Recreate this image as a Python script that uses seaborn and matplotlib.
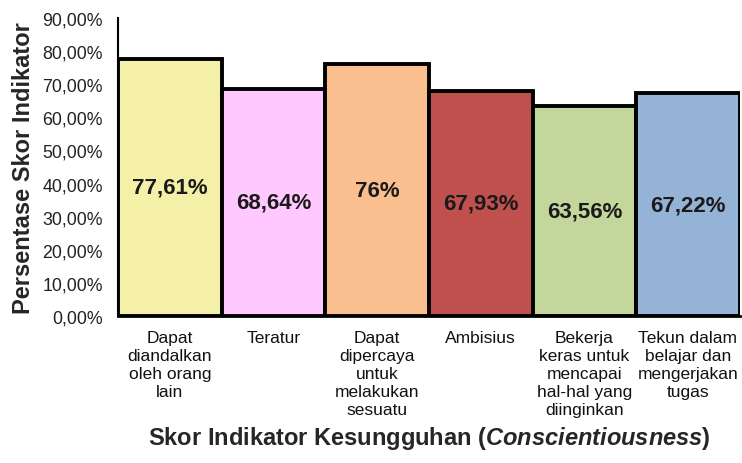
import numpy as np
import matplotlib.pyplot as plt
import matplotlib.ticker as mticker
import pandas as pd
import seaborn as sns

indikator = [
    "Dapat\ndiandalkan\noleh orang\nlain",
    "Teratur",
    "Dapat\ndipercaya\nuntuk\nmelakukan\nsesuatu",
    "Ambisius",
    "Bekerja\nkeras untuk\nmencapai\nhal-hal yang\ndiinginkan",
    "Tekun dalam\nbelajar dan\nmengerjakan\ntugas",
]
skor = [77.61, 68.64, 76.00, 67.93, 63.56, 67.22]
label_bar = ["77,61%", "68,64%", "76%", "67,93%", "63,56%", "67,22%"]
warna = ["#F5F0A8", "#FFC9FF", "#F9BF8F", "#C0504D", "#C3D69B", "#95B3D7"]

df = pd.DataFrame({"indikator": indikator, "skor": skor})

sns.set_style("white")
plt.rcParams["font.family"] = ["Liberation Sans", "DejaVu Sans"]
plt.rcParams["mathtext.fontset"] = "custom"
plt.rcParams["mathtext.it"] = "Liberation Sans:italic:bold"
plt.rcParams["mathtext.rm"] = "Liberation Sans:bold"

fig = plt.figure(figsize=(7.42, 4.64), dpi=100)
ax = fig.add_axes([0.159, 0.317, 0.838, 0.642])

sns.barplot(data=df, x="indikator", y="skor", hue="indikator", palette=warna,
            legend=False, width=1.0, edgecolor="black", linewidth=2.8,
            saturation=1, ax=ax)

for i, (v, t) in enumerate(zip(skor, label_bar)):
    ax.text(i, v / 2, t, ha="center", va="center", fontsize=16,
            fontweight="bold", color="#1a1a1a")

ax.set_ylim(0, 90)
ax.set_xlim(-0.5, 5.5)
ax.yaxis.set_major_locator(mticker.MultipleLocator(10))
ax.yaxis.set_major_formatter(
    mticker.FuncFormatter(lambda v, p: f"{v:.2f}".replace(".", ",") + "%"))
ax.tick_params(axis="y", labelsize=12.8, length=0, pad=11, colors="#222222")
ax.tick_params(axis="x", labelsize=12.5, length=0, pad=10, colors="#111111")
for lbl in ax.get_xticklabels():
    lbl.set_linespacing(1.25)

for s in ["top", "right"]:
    ax.spines[s].set_visible(False)
ax.spines["left"].set_linewidth(1.5)
ax.spines["left"].set_color("black")
ax.spines["bottom"].set_linewidth(2)
ax.spines["bottom"].set_color("black")

ax.set_ylabel("Persentase Skor Indikator", fontsize=17, fontweight="bold", labelpad=5)
ax.set_xlabel("Skor Indikator Kesungguhan ($\\it{Conscientiousness}$)",
              fontsize=17, fontweight="bold", labelpad=5)

fig.savefig("out.png", dpi=100)
